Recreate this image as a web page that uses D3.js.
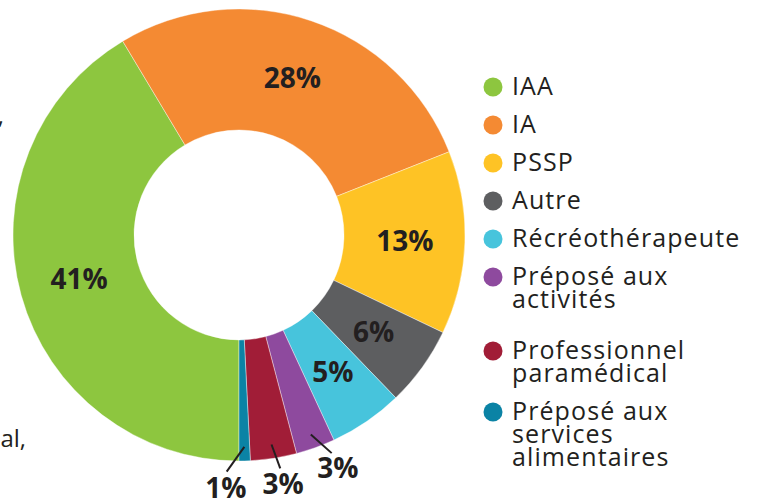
<!DOCTYPE html>
<html>
<head>
<meta charset="utf-8">
<script src="https://cdn.jsdelivr.net/npm/d3@7"></script>
<style>
  body { margin: 0; background: #fff; }
  svg { display: block; font-family: "Open Sans", sans-serif; }
</style>
</head>
<body>
<div id="chart"></div>
<script>
const categories = ["IAA", "IA", "PSSP", "Autre", "Récréothérapeute",
  "Préposé aux activités", "Professionnel paramédical", "Préposé aux services alimentaires"];
const values = [41.4, 27.6, 13.1, 5.7, 5.3, 2.8, 3.3, 0.8];
const colors = ["#8dc63f", "#f48a33", "#fec325", "#5d5e60", "#47c4dc", "#8e4a9e", "#a11d37", "#0b83a5"];
// Legend lines (wrapped as in the picture)
const legendLines = [["IAA"], ["IA"], ["PSSP"], ["Autre"], ["Récréothérapeute"],
  ["Préposé aux", "activités"], ["Professionnel", "paramédical"], ["Préposé aux", "services", "alimentaires"]];

const width = 759, height = 499;
const cx = 239, cy = 235, outerR = 226, innerR = 105;
const textColor = "#231f20";

const svg = d3.select("#chart").append("svg")
  .attr("width", width)
  .attr("height", height);

const pie = d3.pie()
  .sort(null)
  .value(d => d)
  .startAngle(Math.PI)
  .endAngle(3 * Math.PI);

const arcs = pie(values);
const arc = d3.arc().innerRadius(innerR).outerRadius(outerR);
const labelArc = d3.arc().innerRadius(166).outerRadius(166);

const g = svg.append("g").attr("transform", `translate(${cx},${cy})`);

g.selectAll("path.slice")
  .data(arcs)
  .join("path")
  .attr("class", "slice")
  .attr("d", arc)
  .attr("fill", (d, i) => colors[i])
  .attr("stroke", "#fff")
  .attr("stroke-width", 0.4);

// big slices: label inside
const inside = arcs.filter(d => d.value >= 4);
g.selectAll("text.inside")
  .data(inside)
  .join("text")
  .attr("class", "inside")
  .attr("transform", d => `translate(${labelArc.centroid(d)})`)
  .attr("text-anchor", "middle")
  .attr("dy", "0.36em")
  .attr("font-size", 28)
  .attr("font-weight", 700)
  .attr("fill", textColor)
  .text(d => Math.round(d.value) + "%");

// small slices: label outside with leader line, spread around their mean angle
const outside = arcs.filter(d => d.value < 4);
const mid = d => (d.startAngle + d.endAngle) / 2;
const spacing = 13 * Math.PI / 180;
const meanAngle = d3.mean(outside, mid);
const ordered = outside.slice().sort((a, b) => mid(a) - mid(b));
ordered.forEach((d, i) => {
  d.labelAngle = meanAngle + (i - (ordered.length - 1) / 2) * spacing;
});

const polar = (r, a) => [r * Math.sin(a), -r * Math.cos(a)];

g.selectAll("line.leader")
  .data(outside)
  .join("line")
  .attr("class", "leader")
  .attr("x1", d => polar(212, mid(d))[0])
  .attr("y1", d => polar(212, mid(d))[1])
  .attr("x2", d => polar(237, d.labelAngle)[0])
  .attr("y2", d => polar(237, d.labelAngle)[1])
  .attr("stroke", textColor)
  .attr("stroke-width", 2);

g.selectAll("text.outside")
  .data(outside)
  .join("text")
  .attr("class", "outside")
  .attr("x", d => polar(253, d.labelAngle)[0])
  .attr("y", d => polar(253, d.labelAngle)[1])
  .attr("text-anchor", "middle")
  .attr("dy", "0.36em")
  .attr("font-size", 28)
  .attr("font-weight", 700)
  .attr("fill", textColor)
  .text(d => Math.round(d.value) + "%");

// legend
const legend = svg.append("g");
let y = 95;
legendLines.forEach((lines, i) => {
  if (i === 6) y += 13;
  const item = legend.append("g");
  item.append("circle")
    .attr("cx", 493)
    .attr("cy", y - 8)
    .attr("r", 9.5)
    .attr("fill", colors[i]);
  const t = item.append("text")
    .attr("x", 512)
    .attr("y", y)
    .attr("font-size", 25)
    .attr("letter-spacing", 1.1)
    .attr("fill", textColor);
  lines.forEach((line, j) => {
    t.append("tspan")
      .attr("x", 512)
      .attr("dy", j === 0 ? 0 : 23)
      .text(line);
  });
  y += 38 + (lines.length - 1) * 23;
});

// fragments of neighbouring text cut off at the left edge
svg.append("text")
  .attr("x", 4).attr("y", 124)
  .attr("text-anchor", "end")
  .attr("font-size", 24)
  .attr("fill", textColor)
  .text(",");
svg.append("text")
  .attr("x", 26).attr("y", 447)
  .attr("text-anchor", "end")
  .attr("font-size", 24)
  .attr("fill", textColor)
  .text("al,");
</script>
</body>
</html>
